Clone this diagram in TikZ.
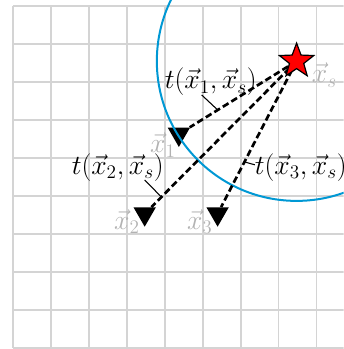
\documentclass[tikz,border=0pt]{standalone}
\usetikzlibrary{shapes.geometric}
\definecolor{wavefront}{RGB}{0,152,212}
\begin{document}
\begin{tikzpicture}[>=stealth,
  gridline/.style={draw=black!17,line width=1.1pt},
  station/.style={regular polygon,regular polygon sides=3,shape border rotate=180,fill=black,inner sep=0pt,minimum size=0.68cm},
  source/.style={star,star points=5,star point ratio=2.4,fill=red,draw=black,line width=0.9pt,inner sep=0pt,minimum size=0.95cm},
  ray/.style={line width=2pt,dash pattern=on 5pt off 2.5pt},
  faint/.style={text=black!30,font=\huge},
  tlabel/.style={font=\huge,inner sep=1pt}]
\useasboundingbox (-0.34,-0.03) rectangle (8.71,9.16);
\clip (-0.34,-0.03) rectangle (8.71,9.16);
\draw[gridline] (0,0) grid (9,9);
\node[station] (x1) at (4.37,5.63) {};
\node[station] (x2) at (3.47,3.53) {};
\node[station] (x3) at (5.39,3.53) {};
\coordinate (s0) at (7.47,7.55);
\draw[wavefront,line width=1.5pt] (s0) circle (3.68);
\draw[ray] (s0) -- (x1);
\draw[ray] (s0) -- (x2);
\draw[ray] (s0) -- (x3);
\node[source] (s) at (s0) {};
\node[faint] (lx1) at (3.95,5.34) {$\vec{x}_1$};
\node[faint] (lx2) at (3.0,3.32) {$\vec{x}_2$};
\node[faint] (lx3) at (4.92,3.32) {$\vec{x}_3$};
\node[faint] (lxs) at (8.2,7.18) {$\vec{x}_s$};
\path (s0) -- (x1.center) coordinate[pos=0.67] (p1);
\path (s0) -- (x2.center) coordinate[pos=0.89] (p2);
\path (s0) -- (x3.center) coordinate[pos=0.66] (p3);
\node[tlabel] (t1) at (5.21,7.0) {$t(\vec{x}_1,\vec{x}_s)$};
\node[tlabel] (t2) at (2.76,4.76) {$t(\vec{x}_2,\vec{x}_s)$};
\node[tlabel] (t3) at (7.58,4.76) {$t(\vec{x}_3,\vec{x}_s)$};
\coordinate (q1) at (4.97,6.66);
\coordinate (q2) at (3.47,4.42);
\coordinate (q3) at (6.37,4.82);
\draw[line width=0.8pt] (q1) -- (p1);
\draw[line width=0.8pt] (q2) -- (p2);
\draw[line width=0.8pt] (q3) -- (p3);
\end{tikzpicture}
\end{document}
